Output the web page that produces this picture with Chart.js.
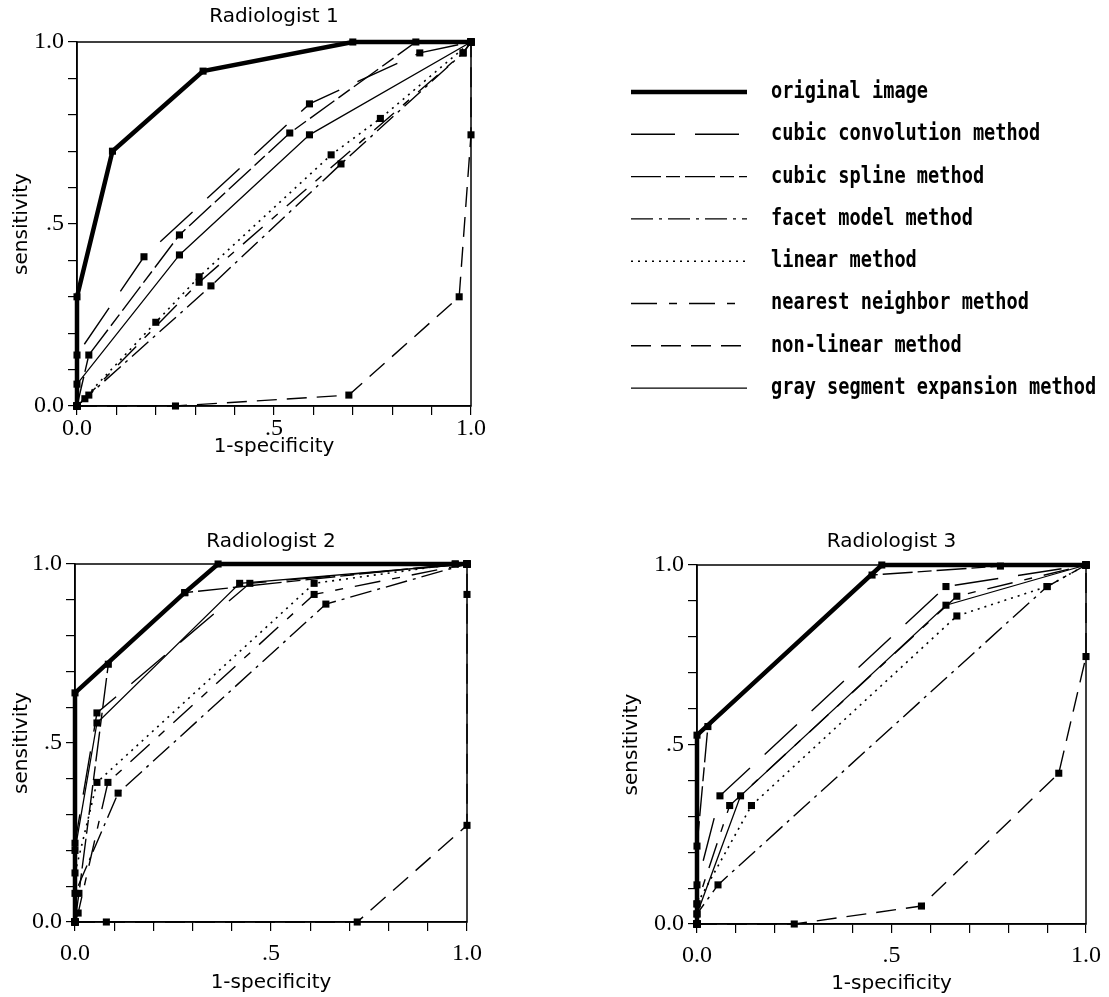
<!DOCTYPE html>
<html>
<head>
<meta charset="utf-8">
<script src="https://cdn.jsdelivr.net/npm/chart.js@4.4.1/dist/chart.umd.min.js"></script>
<style>
  html, body { margin: 0; padding: 0; background: #fff; overflow: hidden; }
  canvas { position: absolute; }
</style>
</head>
<body>
<canvas id="r1" width="1109" height="470" style="left:0px;top:0px"></canvas>
<canvas id="r2" width="500" height="467" style="left:0px;top:530px"></canvas>
<canvas id="r3" width="509" height="467" style="left:600px;top:530px"></canvas>
<script>
// methods, same order in every data row below
const methods = [
  'original image',
  'cubic convolution method',
  'cubic spline method',
  'facet model method',
  'linear method',
  'nearest neighbor method',
  'non-linear method',
  'gray segment expansion method'
];

const tickValues = [0, 0.5, 1];
const tickText = ['0.0', '.5', '1.0'];

// Radiologist 1 : 1-specificity / sensitivity
const r1Fpr = [
  [0, 0, 0.09, 0.32, 0.70, 1],
  [0, 0, 0.17, 0.59, 0.87, 1],
  [0, 0.03, 0.26, 0.54, 0.86, 1],
  [0, 0.03, 0.34, 0.67, 0.98, 1],
  [0, 0.20, 0.31, 0.645, 0.77, 1],
  [0, 0.02, 0.31, 0.98, 1],
  [0, 0.25, 0.69, 0.97, 1, 1],
  [0, 0, 0.26, 0.59, 1]
];
const r1Tpr = [
  [0, 0.30, 0.70, 0.92, 1, 1],
  [0, 0.14, 0.41, 0.83, 0.97, 1],
  [0, 0.14, 0.47, 0.75, 1, 1],
  [0, 0.03, 0.33, 0.665, 0.97, 1],
  [0, 0.23, 0.355, 0.69, 0.79, 1],
  [0, 0.02, 0.34, 0.97, 1],
  [0, 0, 0.03, 0.30, 0.745, 1],
  [0, 0.06, 0.415, 0.745, 1]
];

// Radiologist 2
const r2Fpr = [
  [0, 0, 0.28, 0.365, 1],
  [0, 0, 0.056, 0.446, 1],
  [0, 0.01, 0.085, 0.28, 0.97, 1],
  [0, 0, 0.11, 0.64, 1],
  [0, 0, 0.056, 0.61, 0.97, 1],
  [0, 0.008, 0.084, 0.61, 1],
  [0, 0.08, 0.72, 1, 1, 1],
  [0, 0, 0.056, 0.42, 1]
];
const r2Tpr = [
  [0, 0.64, 0.92, 1, 1],
  [0, 0.22, 0.584, 0.946, 1],
  [0, 0.08, 0.72, 0.92, 1, 1],
  [0, 0.08, 0.36, 0.888, 1],
  [0, 0.137, 0.39, 0.946, 1, 1],
  [0, 0.025, 0.39, 0.915, 1],
  [0, 0, 0, 0.27, 0.915, 1],
  [0, 0.20, 0.556, 0.946, 1]
];

// Radiologist 3
const r3Fpr = [
  [0, 0, 0.475, 1],
  [0, 0, 0.059, 0.64, 1],
  [0, 0, 0.028, 0.45, 0.78, 1],
  [0, 0, 0.054, 0.90, 1],
  [0, 0, 0.14, 0.668, 0.90, 1],
  [0, 0, 0.084, 0.668, 1],
  [0, 0.25, 0.577, 0.93, 1, 1],
  [0, 0, 0.112, 0.64, 1]
];
const r3Tpr = [
  [0, 0.526, 1, 1],
  [0, 0.109, 0.357, 0.94, 1],
  [0, 0.217, 0.55, 0.972, 0.997, 1],
  [0, 0.028, 0.109, 0.94, 1],
  [0, 0.056, 0.33, 0.858, 0.94, 1],
  [0, 0.056, 0.33, 0.913, 1],
  [0, 0, 0.05, 0.42, 0.745, 1],
  [0, 0.028, 0.357, 0.888, 1]
];

// line looks per method
const lineWidths = [4.5, 1.4, 1.4, 1.4, 1.6, 1.4, 1.4, 1.3];
const lineDashes = [[], [44, 20], [30, 5, 14, 5], [22, 6, 3, 6], [2, 5], [26, 12, 8, 12], [20, 10], []];

const sansFont = { family: '"DejaVu Sans", Verdana, sans-serif', size: 20, weight: 'normal', lineHeight: 1.2 };
const serifFont = { family: '"Liberation Serif", "Times New Roman", serif', size: 24, weight: 'normal', lineHeight: 1.2 };

function tickLabel(v) {
  const k = tickValues.findIndex(t => Math.abs(t - v) < 1e-6);
  return k < 0 ? '' : tickText[k];
}

// box round the plot area
const framePlugin = {
  id: 'frame',
  beforeDatasetsDraw(chart) {
    const { ctx, chartArea: a } = chart;
    ctx.save();
    ctx.strokeStyle = '#000';
    ctx.lineWidth = 1.5;
    ctx.strokeRect(a.left, a.top, a.right - a.left, a.bottom - a.top);
    ctx.restore();
  }
};

// legend to the right of the first plot
const sideLegend = {
  id: 'sideLegend',
  afterDraw(chart) {
    const ctx = chart.ctx;
    chart.data.datasets.forEach((ds, i) => {
      const y = 92 + i * 42.3;
      ctx.save();
      ctx.strokeStyle = '#000';
      ctx.lineWidth = ds.borderWidth;
      ctx.setLineDash(ds.borderDash);
      ctx.beginPath();
      ctx.moveTo(631, y);
      ctx.lineTo(747, y);
      ctx.stroke();
      ctx.setLineDash([]);
      ctx.translate(771, y);
      ctx.scale(0.81, 1);
      ctx.font = 'bold 23px "DejaVu Sans Mono", monospace';
      ctx.textBaseline = 'middle';
      ctx.fillStyle = '#000';
      ctx.fillText(ds.label, 0, 0);
      ctx.restore();
    });
  }
};

function makeChart(id, title, fpr, tpr, lay, withLegend) {
  const datasets = methods.map((m, i) => ({
    label: m,
    data: fpr[i].map((x, j) => ({ x: x, y: tpr[i][j] })),
    showLine: true,
    borderColor: '#000',
    borderWidth: lineWidths[i],
    borderDash: lineDashes[i],
    tension: 0,
    pointStyle: 'rect',
    pointRadius: 5,
    pointBackgroundColor: '#000',
    pointBorderWidth: 0,
    clip: false
  }));

  return new Chart(id, {
    type: 'scatter',
    data: { datasets: datasets },
    options: {
      responsive: false,
      animation: false,
      layout: { padding: { left: 0, top: 0, right: lay.padRight, bottom: 0 } },
      plugins: {
        legend: { display: false },
        tooltip: { enabled: false },
        title: {
          display: true,
          text: title,
          color: '#000',
          fullSize: false,
          font: sansFont,
          padding: { top: lay.titleTop, bottom: lay.titleBottom }
        }
      },
      scales: {
        x: {
          type: 'linear',
          min: 0,
          max: 1,
          ticks: {
            stepSize: 0.1,
            autoSkip: false,
            maxRotation: 0,
            padding: lay.xTickPad,
            color: '#000',
            font: serifFont,
            callback: v => tickLabel(v)
          },
          grid: { drawOnChartArea: false, tickLength: 9, color: '#000', lineWidth: 1.2 },
          border: { color: '#000', width: 1.5 },
          title: { display: true, text: '1-specificity', color: '#000', font: sansFont, padding: { top: 0, bottom: lay.xTitlePad } },
          afterFit: s => { s.height = lay.xHeight; }
        },
        y: {
          type: 'linear',
          min: 0,
          max: 1,
          ticks: {
            stepSize: 0.1,
            autoSkip: false,
            padding: 4,
            color: '#000',
            font: serifFont,
            callback: v => tickLabel(v)
          },
          grid: { drawOnChartArea: false, tickLength: 9, color: '#000', lineWidth: 1.2 },
          border: { color: '#000', width: 1.5 },
          title: { display: true, text: 'sensitivity', color: '#000', font: sansFont, padding: { top: lay.yTitlePad, bottom: 0 } },
          afterFit: s => { s.width = lay.yWidth; }
        }
      }
    },
    plugins: withLegend ? [framePlugin, sideLegend] : [framePlugin]
  });
}

makeChart('r1', 'Radiologist 1', r1Fpr, r1Tpr,
  { padRight: 638, titleTop: 5, titleBottom: 13, xHeight: 64, yWidth: 77, xTickPad: -1, xTitlePad: 11.5, yTitlePad: 9.5 }, true);
makeChart('r2', 'Radiologist 2', r2Fpr, r2Tpr,
  { padRight: 33, titleTop: 0, titleBottom: 10, xHeight: 75, yWidth: 75, xTickPad: 8, xTitlePad: 2.5, yTitlePad: 9.5 }, false);
makeChart('r3', 'Radiologist 3', r3Fpr, r3Tpr,
  { padRight: 20, titleTop: 0, titleBottom: 11, xHeight: 73, yWidth: 97, xTickPad: 8, xTitlePad: 1.5, yTitlePad: 19.5 }, false);
</script>
</body>
</html>
